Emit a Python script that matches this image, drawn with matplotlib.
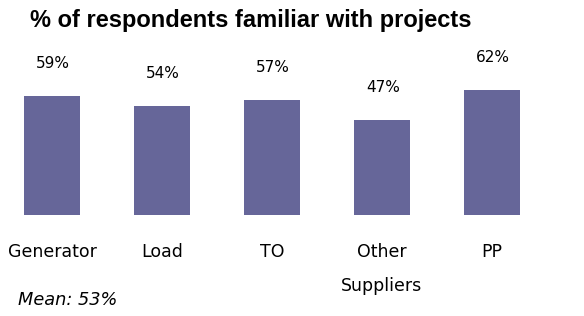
import matplotlib
matplotlib.use("Agg")
import matplotlib.pyplot as plt

categories = ["Generator", "Load", "TO", "Other\nSuppliers", "PP"]
values = [59, 54, 57, 47, 62]
value_labels = ["59%", "54%", "57%", "47%", "62%"]
title = "% of respondents familiar with projects"
mean_text = "Mean: 53%"

W, H = 584, 316
fig = plt.figure(figsize=(W / 100, H / 100), dpi=100)
base_px = 101
ax = fig.add_axes([0, base_px / H, 1, (H - base_px) / H])

x = list(range(len(categories)))
bars = ax.bar(x, values, width=56 / 110, color="#666699")
ax.set_xlim(-52 / 110, (W - 52) / 110)
ax.set_ylim(0, (H - base_px) / 2.02)

for xi, v, lab in zip(x, values, value_labels):
    ax.annotate(lab, (xi, v), xytext=(1, 28), textcoords="offset pixels",
                ha="center", va="baseline", fontsize=11, family="DejaVu Sans")

ax.set_xticks(x)
ax.set_xticklabels(categories, fontsize=12.5, family="DejaVu Sans")
for t in ax.get_xticklabels():
    t.set_linespacing(2.15)
ax.tick_params(axis="x", length=0, pad=20)
ax.set_yticks([])
for s in ax.spines.values():
    s.set_visible(False)

fig.text(30 / W, 1 - 9 / H, title, ha="left", va="top", fontsize=17,
         fontweight="bold", family="Liberation Sans")
fig.text(18 / W, 1 - 300 / H, mean_text, ha="left", va="center", fontsize=12.8,
         style="italic", family="DejaVu Sans")

fig.savefig("out.png", dpi=100)
